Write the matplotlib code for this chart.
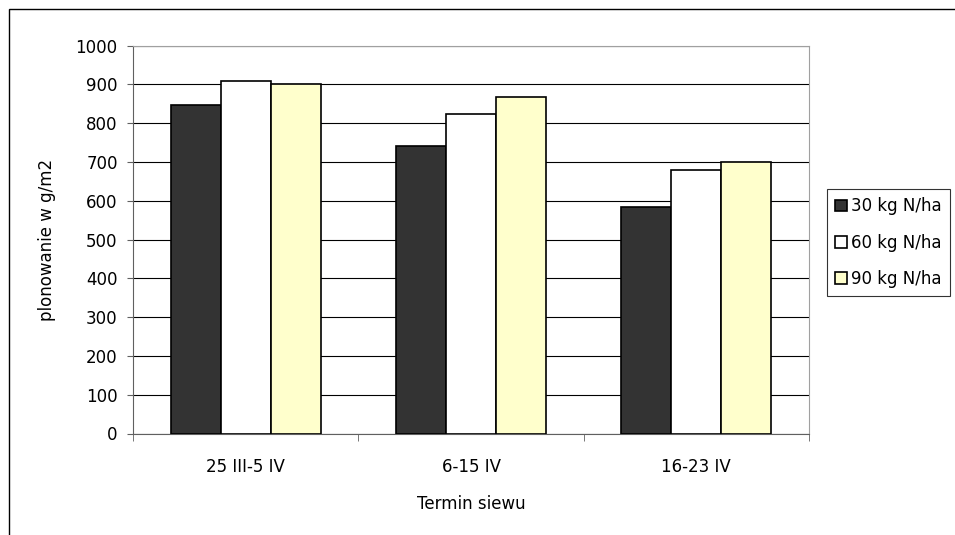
import numpy as np
import matplotlib
matplotlib.use("Agg")
import matplotlib.pyplot as plt
from matplotlib.patches import Rectangle

# the reference text is widely spaced, DejaVu gives the closest footprint
plt.rcParams['font.family'] = ['DejaVu Sans']

# data
terms = ['25 III-5 IV', '6-15 IV', '16-23 IV']
dose_labels = ['30 kg N/ha', '60 kg N/ha', '90 kg N/ha']
n30 = [847, 741, 583]
n60 = [908, 825, 679]
n90 = [900, 868, 701]
colors = ['#333333', '#ffffff', '#ffffcc']

fs = 12
fig = plt.figure(figsize=(9.55, 5.35), dpi=100)
ax = fig.add_axes([133 / 955, 1 - 433.5 / 535, (809 - 133) / 955, (433.5 - 45.7) / 535])

# outer chart border (cropped at right and bottom like the original)
fig.patches.append(Rectangle((9 / 955, -0.1), 1.2, 1 - 9 / 535 + 0.1,
                             transform=fig.transFigure, fill=False,
                             edgecolor='black', linewidth=1.0))

x = np.arange(len(terms))
w = 1 / 4.5
for i, vals in enumerate([n30, n60, n90]):
    ax.bar(x + (i - 1) * w, vals, w, color=colors[i], edgecolor='black',
           linewidth=1.2, label=dose_labels[i], zorder=3)

ax.set_xlim(-0.5, 2.5)
ax.set_ylim(0, 1000)
ax.set_yticks(range(0, 1001, 100))
ax.yaxis.grid(True, color='black', linewidth=0.8, zorder=0)
ax.tick_params(axis='y', direction='out', length=4, color='#606060', labelsize=fs, pad=7)

# categories labelled at centres, ticks between categories
ax.set_xticks(x)
ax.set_xticklabels(terms, fontsize=fs)
ax.tick_params(axis='x', length=0, pad=18)
ax.set_xticks([-0.5, 0.5, 1.5, 2.5], minor=True)
ax.tick_params(axis='x', which='minor', direction='out', length=5, color='#606060')

for side in ['left', 'bottom']:
    ax.spines[side].set_color('#606060')
for side in ['top', 'right']:
    ax.spines[side].set_color('#a0a0a0')

ax.set_ylabel('plonowanie w g/m2', fontsize=fs, labelpad=14)
ax.set_xlabel('Termin siewu', fontsize=fs, labelpad=13)

leg = fig.legend(loc='upper left', bbox_to_anchor=(827 / 955, 1 - 189 / 535),
                 frameon=True, fancybox=False, fontsize=fs,
                 handlelength=0.7, handleheight=0.7, handletextpad=0.25,
                 labelspacing=1.1, borderpad=0.5, borderaxespad=0)
leg.get_frame().set_edgecolor('black')
leg.get_frame().set_linewidth(0.8)

fig.savefig('out.png', dpi=100)
